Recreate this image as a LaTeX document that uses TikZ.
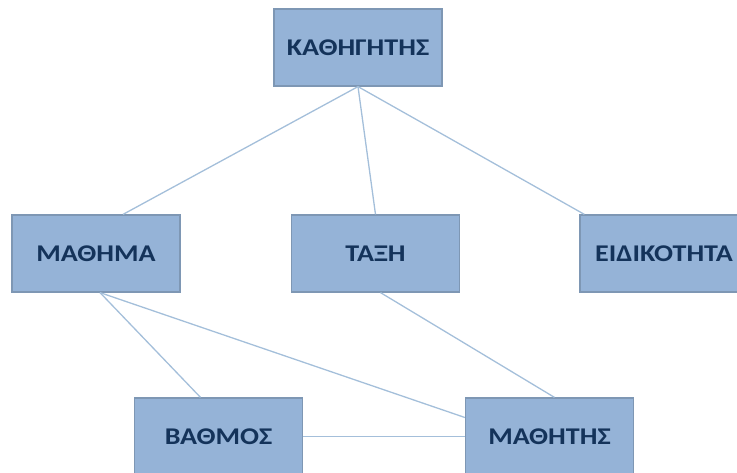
\documentclass[tikz,border=0pt]{standalone}
\usepackage{fontspec}
\setmainfont{Carlito}
\newfontfamily\boxfont[FakeStretch=1.17]{Carlito}
\definecolor{boxfill}{HTML}{95B3D7}
\definecolor{boxedge}{HTML}{7E97B4}
\definecolor{boxtext}{HTML}{14335A}
\definecolor{linkcol}{HTML}{A4BFDA}
\tikzset{
  entity/.style={rectangle, draw=boxedge, line width=1.2pt, fill=boxfill,
    minimum width=168pt, minimum height=77pt, inner sep=0pt,
    font=\boxfont\fontsize{24}{28}\selectfont\bfseries, text=boxtext},
  link/.style={draw=linkcol, line width=1.3pt}
}
\begin{document}
\begin{tikzpicture}[x=1pt, y=-1pt]
  \useasboundingbox (0,0) rectangle (737,472);
  \clip (0,0) rectangle (737,472);
  % entities
  \node[entity] (kath) at (358,47.5) {ΚΑΘΗΓΗΤΗΣ};
  \node[entity] (math) at (96,253.5) {ΜΑΘΗΜΑ};
  \node[entity] (taxi) at (375.5,253.5) {ΤΑΞΗ};
  \node[entity] (eidi) at (664,253.5) {ΕΙΔΙΚΟΤΗΤΑ};
  \node[entity] (vath) at (218.5,436.5) {ΒΑΘΜΟΣ};
  \node[entity] (mathi) at (549.5,436.5) {ΜΑΘΗΤΗΣ};
  % relationships
  \draw[link] (kath.south) -- ([xshift=27pt]math.north);
  \draw[link] (kath.south) -- (taxi.north);
  \draw[link] (kath.south) -- ([xshift=5pt]eidi.north west);
  \draw[link] ([xshift=4pt]math.south) -- ([xshift=-18pt]vath.north);
  \draw[link] ([xshift=4pt]math.south) -- ([yshift=19pt]mathi.west);
  \draw[link] ([xshift=5pt]taxi.south) -- ([xshift=5pt]mathi.north);
  \draw[link] (vath.east) -- (mathi.west);
\end{tikzpicture}
\end{document}
